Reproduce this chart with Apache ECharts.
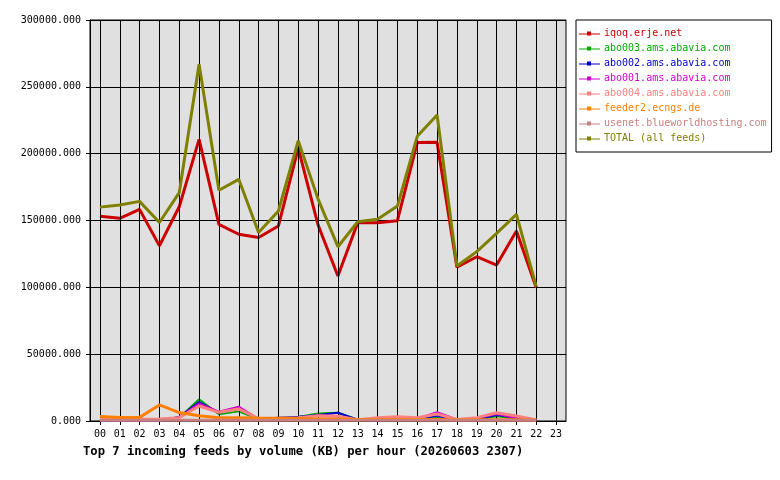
<!DOCTYPE html>
<html>
<head>
<meta charset="utf-8">
<script src="https://cdn.jsdelivr.net/npm/echarts@6/dist/echarts.min.js"></script>
<style>html,body{margin:0;padding:0;background:#fff}#c{width:780px;height:480px}</style>
</head>
<body>
<div id="c"></div>
<script>
const hours = ['00','01','02','03','04','05','06','07','08','09','10','11','12','13','14','15','16','17','18','19','20','21','22','23'];
const yTicks = [0, 50000, 100000, 150000, 200000, 250000, 300000];

const iqoq    = [153100,151600,158300,131100,160300,210700,147100,139700,137300,145900,204200,146600,108500,148400,148300,149900,208300,208500,115000,122900,116700,142100,99700];
const abo003  = [300,300,300,400,2500,16200,5000,7200,1200,1500,3000,5700,6200,1000,800,1200,1200,2500,800,1000,3500,2000,300];
const abo002  = [300,300,300,400,3000,14200,6200,9500,1500,2500,3200,4500,6200,1000,800,1500,1500,4000,800,1200,4500,2500,300];
const abo001  = [300,300,300,400,2800,13200,7000,10700,1500,1800,2500,4200,3700,800,1200,2500,1800,6500,1200,2000,5200,2200,300];
const abo004  = [1200,1200,1200,1500,2500,11200,6500,9000,1800,2000,2500,4000,3500,1000,2500,3200,2500,5200,1200,2500,6200,3700,700];
const feeder2 = [3300,2700,2700,12000,6300,4000,2500,2500,2200,2000,1800,1500,1500,1200,1200,1200,1200,1200,1000,1000,1000,1000,800];
const usenet  = [600,600,600,600,600,600,600,600,600,600,600,600,600,600,600,600,600,600,600,600,600,600,600];
const total   = [160000,161600,164300,148500,170800,266900,172600,180800,141000,157100,209700,166000,130400,149100,150900,160800,213000,228900,116000,126700,140400,154600,100500];

const names  = ['iqoq.erje.net','abo003.ams.abavia.com','abo002.ams.abavia.com','abo001.ams.abavia.com','abo004.ams.abavia.com','feeder2.ecngs.de','usenet.blueworldhosting.com','TOTAL (all feeds)'];
const values = [iqoq, abo003, abo002, abo001, abo004, feeder2, usenet, total];
const colors = ['#cc0000','#00aa00','#0000cc','#cc00cc','#ff8080','#ff8000','#c88080','#808000'];
const widths = [3,2,2,2,3,3,3,3];

const FONT = 'DejaVu Sans Mono';
const icon = 'path://M0,2 H8 V0 H12 V2 H21 V3 H12 V4 H8 V3 H0 Z';

const series = names.map((n, i) => ({
  name: n,
  type: 'line',
  data: values[i],
  symbol: 'rect',
  showSymbol: false,
  animation: false,
  silent: true,
  z: 3 + i,
  lineStyle: { color: colors[i], width: widths[i] },
  itemStyle: { color: colors[i] }
}));

series.unshift({
  name: '__grid',
  type: 'line',
  data: [],
  z: 1,
  silent: true,
  animation: false,
  markLine: {
    silent: true,
    symbol: ['none','none'],
    label: { show: false },
    animation: false,
    lineStyle: { color: '#000', width: 1, type: 'solid' },
    data: hours.map(h => ({ xAxis: h }))
  }
});

const chart = echarts.init(document.getElementById('c'), null, { renderer: 'canvas' });
chart.setOption({
  animation: false,
  backgroundColor: '#ffffff',
  textStyle: { fontFamily: FONT },
  title: {
    text: 'Top 7 incoming feeds by volume (KB) per hour (20260603 2307)',
    left: 83, top: 446, padding: 0,
    textStyle: { fontFamily: FONT, fontSize: 12.2, fontWeight: 'bold', color: '#000' }
  },
  legend: {
    orient: 'vertical',
    left: 576, top: 20,
    backgroundColor: '#fff',
    borderColor: '#000', borderWidth: 1,
    padding: [8, 5, 8, 3],
    itemWidth: 21, itemHeight: 4, itemGap: 4,
    selectedMode: false,
    data: names.map((n, i) => ({
      name: n, icon: icon,
      itemStyle: { color: colors[i], borderWidth: 0 },
      textStyle: { color: colors[i] }
    })),
    textStyle: { fontFamily: FONT, fontSize: 10, lineHeight: 11, padding: [0,0,0,-1] }
  },
  grid: {
    left: 90, top: 20, width: 476, height: 401,
    show: true, backgroundColor: '#e0e0e0', borderColor: '#000', borderWidth: 1,
    containLabel: false
  },
  xAxis: {
    type: 'category',
    data: hours,
    boundaryGap: true,
    axisLine: { show: true, lineStyle: { color: '#000', width: 1 } },
    axisTick: { show: true, alignWithLabel: true, length: 4, lineStyle: { color: '#000' } },
    axisLabel: { color: '#000', fontFamily: FONT, fontSize: 10, margin: 8, interval: 0 },
    splitLine: { show: false }
  },
  yAxis: {
    type: 'value',
    min: 0, max: 300000, interval: 50000,
    axisLine: { show: true, lineStyle: { color: '#000', width: 1 } },
    axisTick: { show: true, length: 4, lineStyle: { color: '#000' } },
    axisLabel: {
      color: '#000', fontFamily: FONT, fontSize: 10, margin: 9,
      formatter: v => yTicks.includes(v) ? v.toFixed(3) : ''
    },
    splitLine: { show: true, lineStyle: { color: '#000', width: 1 } }
  },
  series: series
});
</script>
</body>
</html>
